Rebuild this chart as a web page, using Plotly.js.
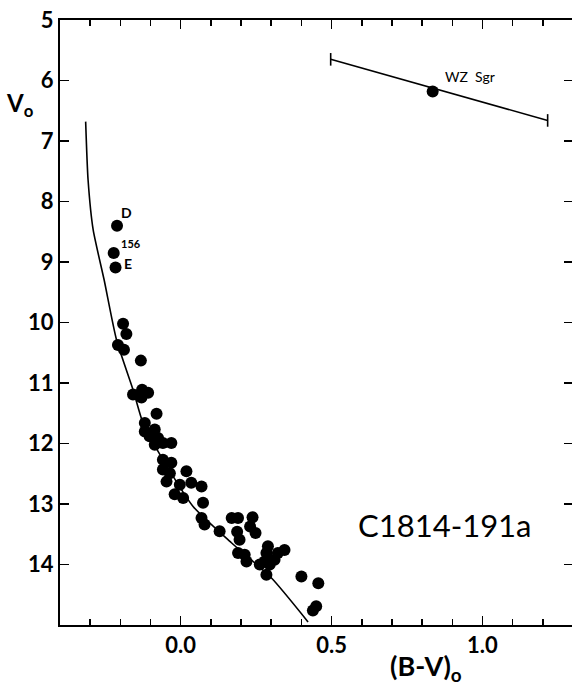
<!DOCTYPE html>
<html>
<head>
<meta charset="utf-8">
<script src="https://cdn.plot.ly/plotly-3.0.1.min.js"></script>
<style>
html, body { margin: 0; padding: 0; overflow: hidden; background: #fff; }
#chart { width: 580px; height: 689px; }
</style>
</head>
<body>
<div id="chart"></div>
<script>
// Cluster stars: (B-V)o and Vo
const starBV = [-0.191, -0.180, -0.208, -0.188, -0.132, -0.158, -0.128, -0.108, -0.130, -0.080,
  -0.119, -0.119, -0.086, -0.103, -0.075, -0.086, -0.059, -0.031, -0.059, -0.031,
  -0.059, -0.036, 0.019, -0.047, -0.003, 0.035, 0.069, -0.020, 0.008, 0.074,
  0.069, 0.079, 0.129, 0.169, 0.190, 0.238, 0.230, 0.248, 0.187, 0.195,
  0.190, 0.212, 0.218, 0.289, 0.284, 0.344, 0.322, 0.311, 0.278, 0.262,
  0.295, 0.284, 0.400, 0.456, 0.449, 0.438];
const starV = [10.02, 10.19, 10.37, 10.45, 10.63, 11.19, 11.11, 11.16, 11.24, 11.51,
  11.66, 11.80, 11.77, 11.88, 11.91, 12.02, 11.99, 11.99, 12.27, 12.32,
  12.43, 12.49, 12.46, 12.63, 12.68, 12.65, 12.71, 12.84, 12.90, 12.98,
  13.23, 13.34, 13.45, 13.23, 13.23, 13.22, 13.37, 13.48, 13.46, 13.59,
  13.81, 13.84, 13.95, 13.70, 13.81, 13.76, 13.81, 13.92, 13.95, 14.00,
  14.00, 14.17, 14.20, 14.31, 14.69, 14.76];

// Labelled stars D, 156, E
const namedBV = [-0.211, -0.222, -0.216];
const namedV = [8.40, 8.85, 9.09];
const namedLabels = ["D", "156", "E"];
const namedLabelBV = [-0.178, -0.165, -0.176];
const namedLabelV = [8.18, 8.70, 9.03];

// Main-sequence curve
const curveBV = [-0.315, -0.307, -0.290, -0.254, -0.213, -0.158, -0.125, -0.075, 0.041, 0.168, 0.300, 0.422];
const curveV = [6.68, 7.64, 8.47, 9.29, 10.28, 11.11, 11.66, 12.13, 13.04, 13.64, 14.22, 14.95];

// WZ Sgr
const wzBV = [0.835];
const wzV = [6.18];
const wzRangeBV = [0.497, 1.216];
const wzRangeV = [5.65, 6.66];

const xTickVals = [0, 0.5, 1.0];
const xTickText = ["0.0", "0.5", "1.0"];
const yTickVals = [5, 6, 7, 8, 9, 10, 11, 12, 13, 14];

const FONT = "Lato, 'Open Sans', sans-serif";

const traces = [
  { x: curveBV, y: curveV, mode: 'lines', line: { color: '#000', width: 1.6, shape: 'spline', smoothing: 0.6 }, hoverinfo: 'skip' },
  { x: wzRangeBV, y: wzRangeV, mode: 'lines+markers', line: { color: '#000', width: 1.6 },
    marker: { symbol: 'line-ns-open', size: 9, color: '#000', line: { color: '#000', width: 1.6 } } },
  { x: wzBV, y: wzV, mode: 'markers', marker: { color: '#000', size: 12 } },
  { x: namedBV, y: namedV, mode: 'markers', marker: { color: '#000', size: 12 } },
  { x: starBV, y: starV, mode: 'markers', marker: { color: '#000', size: 12 } }
];

const annotations = namedLabels.map((t, i) => ({
  x: namedLabelBV[i], y: namedLabelV[i], xref: 'x', yref: 'y', text: t, showarrow: false,
  xanchor: 'center', yanchor: 'middle',
  font: { family: FONT, size: t === '156' ? 11 : 14, color: '#000', weight: 700 }
}));
annotations.push({ x: 0.960, y: 5.94, xref: 'x', yref: 'y', text: 'WZ  Sgr', showarrow: false,
  xanchor: 'center', yanchor: 'middle', font: { family: FONT, size: 14, color: '#000' } });
annotations.push({ x: 0.877, y: 13.34, xref: 'x', yref: 'y', text: 'C1814-191a', showarrow: false,
  xanchor: 'center', yanchor: 'middle', font: { family: FONT, size: 31, color: '#000' } });
annotations.push({ x: 20, y: 105, xref: 'paper', yref: 'paper', text: 'V<sub>o</sub>', showarrow: false,
  xanchor: 'center', yanchor: 'middle', font: { family: FONT, size: 24, color: '#000', weight: 700 } });
annotations.push({ x: 426, y: 668, xref: 'paper', yref: 'paper', text: '(B-V)<sub>o</sub>', showarrow: false,
  xanchor: 'center', yanchor: 'middle', font: { family: FONT, size: 27, color: '#000', weight: 700 } });

// convert pixel-placed annotations to paper coords
const W = 580, H = 689, ML = 60, MR = 6.6, MT = 20, MB = 63.5;
annotations.forEach(a => {
  if (a.xref === 'paper') {
    a.x = (a.x - ML) / (W - ML - MR);
    a.y = 1 - (a.y - MT) / (H - MT - MB);
  }
});

const layout = {
  width: W, height: H,
  margin: { l: ML, r: MR, t: MT, b: MB, pad: 0 },
  paper_bgcolor: '#fff', plot_bgcolor: '#fff',
  showlegend: false,
  xaxis: {
    range: [-0.4, 1.3], showgrid: false, zeroline: false,
    showline: true, linecolor: '#000', linewidth: 2, mirror: 'ticks',
    ticks: 'inside', ticklen: 9, tickwidth: 1.5, tickcolor: '#000',
    tickvals: xTickVals, ticktext: xTickText,
    minor: { dtick: 0.1, tick0: 0, ticks: 'inside', ticklen: 6, tickwidth: 1.5, tickcolor: '#000', showgrid: false },
    tickfont: { family: FONT, size: 22, color: '#000', weight: 700 }
  },
  yaxis: {
    range: [15, 5], showgrid: false, zeroline: false,
    showline: true, linecolor: '#000', linewidth: 2, mirror: 'ticks',
    ticks: 'inside', ticklen: 9, tickwidth: 1.5, tickcolor: '#000',
    tickvals: yTickVals,
    tickfont: { family: FONT, size: 22, color: '#000', weight: 700 }
  },
  annotations: annotations
};

Plotly.newPlot('chart', traces, layout, { staticPlot: true, displayModeBar: false });
</script>
</body>
</html>
